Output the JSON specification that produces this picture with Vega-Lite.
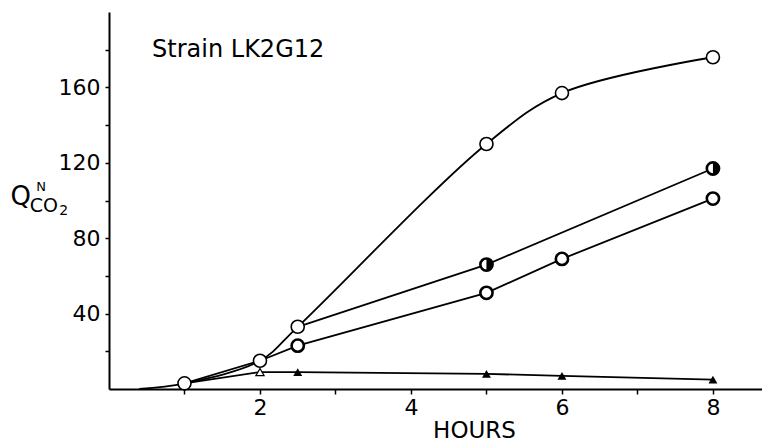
{
  "$schema": "https://vega.github.io/schema/vega-lite/v6.json",
  "width": 653,
  "height": 377,
  "autosize": {"type": "none"},
  "padding": {"left": 109, "top": 12, "right": 0, "bottom": 52},
  "background": "white",
  "config": {
    "view": {"stroke": null},
    "font": "DejaVu Sans",
    "axis": {
      "domainColor": "black", "domainWidth": 2, "tickColor": "black", "tickWidth": 1.5,
      "grid": false, "labelColor": "black", "labelFont": "DejaVu Sans", "labelFontSize": 22,
      "titleColor": "black", "titleFont": "DejaVu Sans", "titleFontWeight": "normal"
    }
  },
  "datasets": {
    "obs": [
      {"series": "A", "hours": 0.4, "q": 0, "marker": "none"},
      {"series": "A", "hours": 1, "q": 3, "marker": "open"},
      {"series": "A", "hours": 2, "q": 15, "marker": "open"},
      {"series": "A", "hours": 2.5, "q": 33, "marker": "open"},
      {"series": "A", "hours": 5, "q": 130, "marker": "open"},
      {"series": "A", "hours": 6, "q": 157, "marker": "open"},
      {"series": "A", "hours": 8, "q": 176, "marker": "open"},
      {"series": "B", "hours": 2.5, "q": 33, "marker": "none"},
      {"series": "B", "hours": 5, "q": 66, "marker": "half"},
      {"series": "B", "hours": 8, "q": 117, "marker": "half"},
      {"series": "C", "hours": 1, "q": 3, "marker": "none"},
      {"series": "C", "hours": 2, "q": 15, "marker": "none"},
      {"series": "C", "hours": 2.5, "q": 23, "marker": "thick"},
      {"series": "C", "hours": 5, "q": 51, "marker": "thick"},
      {"series": "C", "hours": 6, "q": 69, "marker": "thick"},
      {"series": "C", "hours": 8, "q": 101, "marker": "thick"},
      {"series": "T", "hours": 1, "q": 3, "marker": "none"},
      {"series": "T", "hours": 2, "q": 9, "marker": "triopen"},
      {"series": "T", "hours": 2.5, "q": 9, "marker": "tri"},
      {"series": "T", "hours": 5, "q": 8, "marker": "tri"},
      {"series": "T", "hours": 6, "q": 7, "marker": "tri"},
      {"series": "T", "hours": 8, "q": 5, "marker": "tri"}
    ]
  },
  "layer": [
    {
      "data": {"name": "obs"},
      "transform": [{"filter": "datum.series == 'A'"}],
      "mark": {"type": "line", "color": "black", "strokeWidth": 1.8, "interpolate": "catmull-rom"},
      "encoding": {
        "x": {"field": "hours", "type": "quantitative", "scale": {"domain": [0, 8.65], "nice": false},
          "axis": {"values": [1, 2, 3, 4, 5, 6, 7, 8], "format": "d", "labelExpr": "datum.value % 2 == 0 ? datum.label : ''",
            "tickSize": 5, "labelPadding": 3, "title": "HOURS", "titleFontSize": 23,
            "titleX": 365, "titleY": 41, "titleAlign": "center", "titleBaseline": "middle"}},
        "y": {"field": "q", "type": "quantitative", "scale": {"domain": [0, 200], "nice": false},
          "axis": {"values": [20, 40, 60, 80, 100, 120, 140, 160, 180], "format": "d", "labelExpr": "datum.value % 40 == 0 ? datum.label : ''",
            "tickSize": 4, "labelPadding": 5, "title": null}},
        "detail": {"field": "series"}
      }
    },
    {
      "data": {"name": "obs"},
      "transform": [{"filter": "datum.series != 'A'"}],
      "mark": {"type": "line", "color": "black", "strokeWidth": 1.8, "interpolate": "linear"},
      "encoding": {
        "x": {"field": "hours", "type": "quantitative"},
        "y": {"field": "q", "type": "quantitative"},
        "detail": {"field": "series"}
      }
    },
    {
      "data": {"name": "obs"},
      "transform": [{"filter": "datum.marker == 'open'"}],
      "mark": {"type": "point", "shape": "circle", "filled": true, "fill": "white", "stroke": "black", "strokeWidth": 1.6, "size": 170, "opacity": 1},
      "encoding": {"x": {"field": "hours", "type": "quantitative"}, "y": {"field": "q", "type": "quantitative"}}
    },
    {
      "data": {"name": "obs"},
      "transform": [{"filter": "datum.marker == 'thick' || datum.marker == 'half'"}],
      "mark": {"type": "point", "shape": "circle", "filled": true, "fill": "white", "stroke": "black", "strokeWidth": 2.6, "size": 150, "opacity": 1},
      "encoding": {"x": {"field": "hours", "type": "quantitative"}, "y": {"field": "q", "type": "quantitative"}}
    },
    {
      "data": {"name": "obs"},
      "transform": [{"filter": "datum.marker == 'half'"}],
      "mark": {"type": "point", "shape": "M0,-1A1,1,0,0,1,0,1Z", "filled": true, "fill": "black", "strokeWidth": 0, "size": 150, "opacity": 1},
      "encoding": {"x": {"field": "hours", "type": "quantitative"}, "y": {"field": "q", "type": "quantitative"}}
    },
    {
      "data": {"name": "obs"},
      "transform": [{"filter": "datum.marker == 'tri'"}],
      "mark": {"type": "point", "shape": "triangle-up", "filled": true, "fill": "black", "strokeWidth": 0, "size": 80, "opacity": 1},
      "encoding": {"x": {"field": "hours", "type": "quantitative"}, "y": {"field": "q", "type": "quantitative"}}
    },
    {
      "data": {"name": "obs"},
      "transform": [{"filter": "datum.marker == 'triopen'"}],
      "mark": {"type": "point", "shape": "triangle-up", "filled": true, "fill": "white", "stroke": "black", "strokeWidth": 1.3, "size": 65, "opacity": 1},
      "encoding": {"x": {"field": "hours", "type": "quantitative"}, "y": {"field": "q", "type": "quantitative"}}
    },
    {
      "data": {"values": [{"hours": 0.57, "q": 180, "label": "Strain LK2G12"}]},
      "mark": {"type": "text", "align": "left", "baseline": "middle", "fontSize": 24, "color": "black"},
      "encoding": {"x": {"field": "hours", "type": "quantitative"}, "y": {"field": "q", "type": "quantitative"}, "text": {"field": "label"}}
    },
    {
      "data": {"values": [{"hours": -1.17, "q": 102, "label": "Q"}]},
      "mark": {"type": "text", "align": "center", "baseline": "middle", "fontSize": 26, "color": "black"},
      "encoding": {"x": {"field": "hours", "type": "quantitative"}, "y": {"field": "q", "type": "quantitative"}, "text": {"field": "label"}}
    },
    {
      "data": {"values": [{"hours": -0.9, "q": 107, "label": "N"}]},
      "mark": {"type": "text", "align": "center", "baseline": "middle", "fontSize": 13, "color": "black"},
      "encoding": {"x": {"field": "hours", "type": "quantitative"}, "y": {"field": "q", "type": "quantitative"}, "text": {"field": "label"}}
    },
    {
      "data": {"values": [{"hours": -1.05, "q": 97, "label": "CO"}]},
      "mark": {"type": "text", "align": "left", "baseline": "middle", "fontSize": 19, "color": "black"},
      "encoding": {"x": {"field": "hours", "type": "quantitative"}, "y": {"field": "q", "type": "quantitative"}, "text": {"field": "label"}}
    },
    {
      "data": {"values": [{"hours": -0.66, "q": 94.5, "label": "2"}]},
      "mark": {"type": "text", "align": "left", "baseline": "middle", "fontSize": 14, "color": "black"},
      "encoding": {"x": {"field": "hours", "type": "quantitative"}, "y": {"field": "q", "type": "quantitative"}, "text": {"field": "label"}}
    }
  ]
}
